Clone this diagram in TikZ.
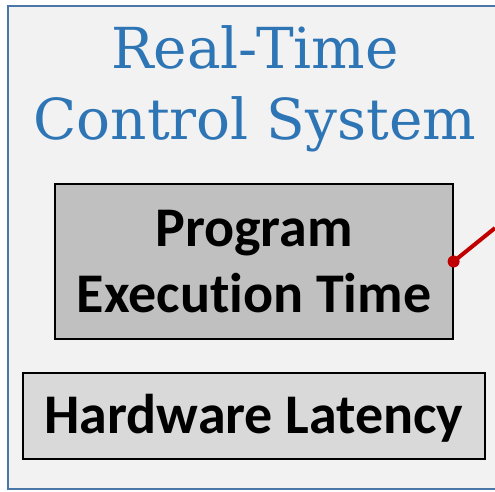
\documentclass[tikz,border=0pt]{standalone}
\usepackage{fontspec}
\setmainfont{Carlito}[Ligatures=NoCommon]
\newfontfamily\titlefont{DejaVu Serif}
\definecolor{panelfill}{HTML}{F2F2F2}
\definecolor{panelline}{HTML}{4A76A8}
\definecolor{titleblue}{HTML}{2E75B6}
\definecolor{darkbox}{HTML}{C0C0C0}
\definecolor{lightbox}{HTML}{D9D9D9}
\definecolor{linkred}{HTML}{C00000}

\begin{document}
\begin{tikzpicture}[x=1pt,y=-1pt]
        \tikzstyle{every node}+=[inner sep=0pt]
        \tikzstyle{block}=[draw=black, line width=1.2pt, font=\fontsize{56}{66}\selectfont\bfseries, align=center]
        \useasboundingbox (0,0) rectangle (495,491);
        \clip (0,0) rectangle (495,491);
        % outer panel
        \draw [panelline, fill=panelfill, line width=1.5pt] (8,6) rectangle (510,489);
        \node (title) at (255,89) [text=titleblue, font=\titlefont\fontsize{56.5}{71}\selectfont, align=center] {Real-Time\\Control System};
        % inner blocks
        \node (prog) at (254,261.5) [block, fill=darkbox, minimum width=398, minimum height=155] {Program\\Execution Time};
        \node (hw) at (254,416) [block, fill=lightbox, minimum width=462, minimum height=86, text depth=4pt] {Hardware Latency};
        % link
        \coordinate (linkend) at (495,228);
        \draw [linkred, line width=4pt] (prog.east) -- (linkend);
        \fill [linkred] (prog.east) circle (6);
\end{tikzpicture}
\end{document}
